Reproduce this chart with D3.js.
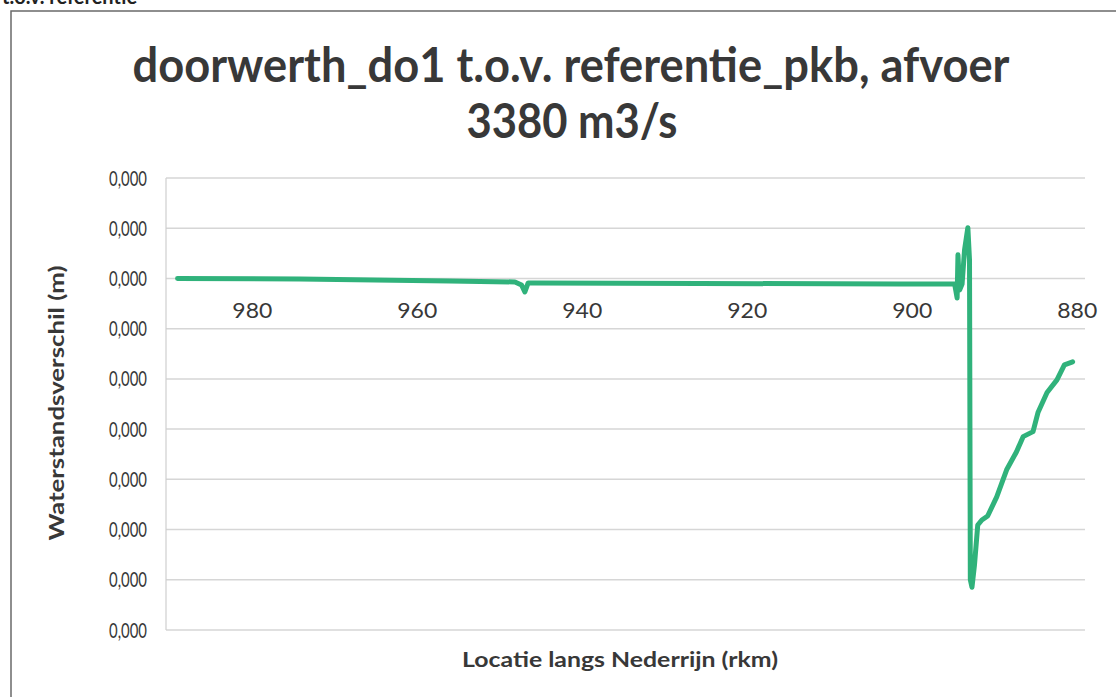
<!DOCTYPE html>
<html>
<head>
<meta charset="utf-8">
<script src="https://cdn.jsdelivr.net/npm/d3@7"></script>
<style>
  body { margin: 0; background: #fff; }
  svg { display: block; }
</style>
</head>
<body>
<script>
const width = 1116;
const height = 697;

// rivierkilometer (rkm) along the Nederrijn
const rkm = [989.0, 974.2, 956.0, 948.1, 947.3, 946.9, 946.5, 945.7, 925.7, 901.5,
             894.8, 894.5, 894.4, 894.2, 893.9, 893.6, 893.2, 893.0, 892.9, 892.7,
             892.4, 892.0, 891.5, 890.8, 889.7, 888.5, 887.3, 886.5, 885.3, 884.7,
             883.6, 882.4, 881.5, 880.5];
// waterstandsverschil (m)
const verschil = [0.000000, -0.000001, -0.000005, -0.000007, -0.000013, -0.000027, -0.000009, -0.000009, -0.000010, -0.000011,
                  -0.000011, -0.000039, 0.000047, -0.000023, -0.000011, 0.000057, 0.000101, 0.000037, -0.000600, -0.000615,
                  -0.000571, -0.000491, -0.000481, -0.000473, -0.000435, -0.000381, -0.000345, -0.000315, -0.000305, -0.000267,
                  -0.000227, -0.000202, -0.000172, -0.000166];

const xTicks = [980, 960, 940, 920, 900, 880];
const yTicks = [0.0002, 0.0001, 0, -0.0001, -0.0002, -0.0003, -0.0004, -0.0005, -0.0006, -0.0007];
const yTickLabels = ['0,000', '0,000', '0,000', '0,000', '0,000', '0,000', '0,000', '0,000', '0,000', '0,000'];

const titleLines = ['doorwerth_do1 t.o.v. referentie_pkb, afvoer', '3380 m3/s'];
const xTitle = 'Locatie langs Nederrijn (rkm)';
const yTitle = 'Waterstandsverschil (m)';

const plot = {left: 166, right: 1085, top: 178, bottom: 630};
const textColor = '#383838';
const font = 'Lato, "Open Sans", sans-serif';

const svg = d3.select('body').append('svg')
    .attr('width', width)
    .attr('height', height)
    .style('font-family', font);

// scanned page: cut-off heading and the frame of the figure
svg.append('text')
    .attr('x', 2).attr('y', 4)
    .attr('fill', '#222')
    .style('font-size', '20px')
    .style('font-weight', 'bold')
    .text('t.o.v. referentie');
svg.append('path')
    .attr('d', `M11,${height} L11,11 L${width},11`)
    .attr('fill', 'none')
    .attr('stroke', '#6a6a6a')
    .attr('stroke-width', 1.5);

//scales
const xScale = d3.scaleLinear()
    .domain([990.4, 879.0])
    .range([plot.left, plot.right]);
const yScale = d3.scaleLinear()
    .domain([0.0002, -0.0007])
    .range([plot.top, plot.bottom]);

//gridlines
svg.append('g')
    .selectAll('line')
    .data(yTicks)
    .enter()
    .append('line')
        .attr('x1', plot.left)
        .attr('x2', plot.right)
        .attr('y1', d => yScale(d))
        .attr('y2', d => yScale(d))
        .attr('stroke', '#d6d6d6')
        .attr('stroke-width', 1.5);
svg.append('line')
    .attr('x1', plot.left).attr('x2', plot.left)
    .attr('y1', plot.top).attr('y2', plot.bottom)
    .attr('stroke', '#cfcfcf')
    .attr('stroke-width', 1.2);

//y axis
const yAxis = d3.axisLeft(yScale)
    .tickValues(yTicks)
    .tickSize(0)
    .tickPadding(19)
    .tickFormat((d, i) => yTickLabels[i]);
const gy = svg.append('g')
    .attr('transform', `translate(${plot.left}, 0)`)
    .call(yAxis);
gy.select('.domain').remove();
gy.selectAll('text')
    .attr('fill', textColor)
    .attr('textLength', 38)
    .attr('lengthAdjust', 'spacingAndGlyphs')
    .style('font-family', font)
    .style('font-size', '22px');

//x axis crosses at 0
const xAxis = d3.axisBottom(xScale)
    .tickValues(xTicks)
    .tickSize(0)
    .tickPadding(24)
    .tickFormat(d3.format('d'));
const gx = svg.append('g')
    .attr('transform', `translate(0, ${yScale(0)})`)
    .call(xAxis);
gx.select('.domain').remove();
gx.selectAll('text')
    .attr('fill', textColor)
    .attr('textLength', 40)
    .attr('lengthAdjust', 'spacingAndGlyphs')
    .style('font-family', font)
    .style('font-size', '22px');

//line
const points = rkm.map((r, i) => [r, verschil[i]]);
const line = d3.line()
    .x(d => xScale(d[0]))
    .y(d => yScale(d[1]));
svg.append('path')
    .datum(points)
    .attr('d', line)
    .attr('fill', 'none')
    .attr('stroke', '#30b27b')
    .attr('stroke-width', 5)
    .attr('stroke-linejoin', 'round')
    .attr('stroke-linecap', 'round');

//title, squeezed to the width of the original
svg.append('text')
    .attr('x', 571).attr('y', 82)
    .attr('text-anchor', 'middle')
    .attr('fill', textColor)
    .attr('textLength', 877)
    .attr('lengthAdjust', 'spacingAndGlyphs')
    .style('font-weight', 'bold')
    .style('font-size', '47px')
    .text(titleLines[0]);
svg.append('text')
    .attr('x', 572).attr('y', 138)
    .attr('text-anchor', 'middle')
    .attr('fill', textColor)
    .attr('textLength', 211)
    .attr('lengthAdjust', 'spacingAndGlyphs')
    .style('font-weight', 'bold')
    .style('font-size', '47px')
    .text(titleLines[1]);

//axis titles
svg.append('text')
    .attr('x', 620).attr('y', 667)
    .attr('text-anchor', 'middle')
    .attr('fill', textColor)
    .attr('textLength', 316)
    .attr('lengthAdjust', 'spacingAndGlyphs')
    .style('font-weight', 'bold')
    .style('font-size', '21px')
    .text(xTitle);
svg.append('text')
    .attr('transform', 'rotate(-90)')
    .attr('x', -403).attr('y', 64)
    .attr('text-anchor', 'middle')
    .attr('fill', textColor)
    .attr('textLength', 275)
    .attr('lengthAdjust', 'spacingAndGlyphs')
    .style('font-weight', 'bold')
    .style('font-size', '21px')
    .text(yTitle);
</script>
</body>
</html>
